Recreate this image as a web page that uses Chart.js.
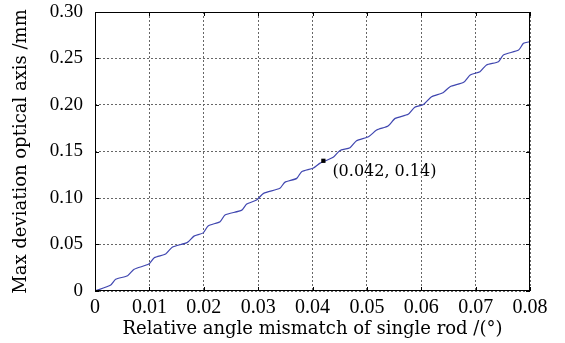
<!DOCTYPE html>
<html>
<head>
<meta charset="utf-8">
<script src="https://cdn.jsdelivr.net/npm/chart.js@4"></script>
<style>
  html, body { margin: 0; padding: 0; background: #fff; }
  #wrap { width: 565px; height: 343px; }
</style>
</head>
<body>
<div id="wrap"><canvas id="myChart" width="565" height="343"></canvas></div>
<script>
// Data
var xValues = [0, 0.0029, 0.0038, 0.0060, 0.0072, 0.0099, 0.0109, 0.0130, 0.0142, 0.0170, 0.0182,
  0.0199, 0.0208, 0.0230, 0.0239, 0.0270, 0.0279, 0.0297, 0.0310, 0.0340, 0.0349, 0.0371, 0.0380,
  0.0401, 0.0414, 0.0438, 0.0450, 0.0469, 0.0481, 0.0503, 0.0518, 0.0539, 0.0552, 0.0576, 0.0588,
  0.0604, 0.0619, 0.0640, 0.0653, 0.0678, 0.0690, 0.0708, 0.0720, 0.0742, 0.0751, 0.0779, 0.0788, 0.0800];
var yValues = [0, 0.0065, 0.0126, 0.0165, 0.0234, 0.0290, 0.0358, 0.0398, 0.0470, 0.0523, 0.0590,
  0.0625, 0.0700, 0.0745, 0.0817, 0.0870, 0.0935, 0.0978, 0.1050, 0.1104, 0.1168, 0.1211, 0.1283,
  0.1320, 0.1375, 0.1437, 0.1509, 0.1541, 0.1616, 0.1659, 0.1731, 0.1774, 0.1856, 0.1900, 0.1975,
  0.2005, 0.2089, 0.2132, 0.2197, 0.2244, 0.2323, 0.2358, 0.2430, 0.2465, 0.2538, 0.2591, 0.2663, 0.2681];

var markX = [0.042];
var markY = [0.14];
var markLabels = ['(0.042, 0.14)'];

var xTickLabels = ['0', '0.01', '0.02', '0.03', '0.04', '0.05', '0.06', '0.07', '0.08'];
var yTickLabels = ['0', '0.05', '0.10', '0.15', '0.20', '0.25', '0.30'];

var xTitle = 'Relative angle mismatch of single rod /(\u00b0)';
var yTitle = 'Max deviation optical axis /mm';

var serif = 'DejaVu Serif';
var tickSerif = 'Liberation Serif';

var lineData = xValues.map(function (x, i) { return { x: x, y: yValues[i] }; });
var markData = markX.map(function (x, i) { return { x: x, y: markY[i] }; });

// frame box, inward tick marks and the point label
var framePlugin = {
  id: 'frame',
  afterDraw: function (chart) {
    var c = chart.ctx;
    var a = chart.chartArea;
    var xs = chart.scales.x;
    var ys = chart.scales.y;
    c.save();
    c.strokeStyle = '#000';
    c.lineWidth = 1;
    c.strokeRect(a.left + 0.5, a.top + 0.5, a.right - a.left - 1, a.bottom - a.top - 1);
    c.beginPath();
    xs.ticks.forEach(function (t) {
      var px = Math.round(xs.getPixelForValue(t.value)) + 0.5;
      c.moveTo(px, a.bottom); c.lineTo(px, a.bottom - 4);
      c.moveTo(px, a.top); c.lineTo(px, a.top + 4);
    });
    ys.ticks.forEach(function (t) {
      var py = Math.round(ys.getPixelForValue(t.value)) + 0.5;
      c.moveTo(a.left, py); c.lineTo(a.left + 4, py);
      c.moveTo(a.right, py); c.lineTo(a.right - 4, py);
    });
    c.stroke();

    c.fillStyle = '#000';
    c.font = '16px "' + serif + '"';
    c.textBaseline = 'middle';
    c.textAlign = 'left';
    markX.forEach(function (x, i) {
      var px = xs.getPixelForValue(x);
      var py = ys.getPixelForValue(markY[i]);
      c.fillText(markLabels[i], px + 9, py + 11);
    });
    c.restore();
  }
};

var ctx = document.getElementById('myChart').getContext('2d');

var myChart = new Chart(ctx, {
  type: 'line',
  data: {
    datasets: [{
      data: lineData,
      order: 1,
      borderColor: '#4047b0',
      borderWidth: 1.2,
      pointRadius: 0,
      tension: 0.2,
      fill: false
    }, {
      type: 'scatter',
      data: markData,
      order: 0,
      pointStyle: 'rect',
      pointRadius: 3,
      backgroundColor: '#000',
      borderColor: '#000',
      borderWidth: 0,
      showLine: false
    }]
  },
  options: {
    responsive: false,
    animation: false,
    layout: { padding: { top: 12, right: 35, left: 0, bottom: 0 } },
    plugins: { legend: { display: false }, tooltip: { enabled: false } },
    scales: {
      x: {
        type: 'linear',
        min: 0,
        max: 0.08,
        afterFit: function (s) { s.height = 52; },
        afterBuildTicks: function (s) {
          s.ticks = xTickLabels.map(function (l) { return { value: parseFloat(l) }; });
        },
        ticks: {
          color: '#000',
          padding: 5,
          maxRotation: 0,
          font: { family: tickSerif, size: 20 },
          callback: function (v, i) { return xTickLabels[i]; }
        },
        grid: { color: '#666', lineWidth: 1, drawTicks: false },
        border: { display: false, dash: [2, 2] },
        title: {
          display: true,
          text: xTitle,
          color: '#000',
          font: { family: serif, size: 18 },
          padding: { top: 0, bottom: 3 }
        }
      },
      y: {
        type: 'linear',
        min: 0,
        max: 0.30,
        afterFit: function (s) {
          s.width = 95;
          s.paddingTop = 0;
          s.paddingBottom = 0;
        },
        afterBuildTicks: function (s) {
          s.ticks = yTickLabels.map(function (l) { return { value: parseFloat(l) }; });
        },
        ticks: {
          color: '#000',
          padding: 12,
          font: { family: tickSerif, size: 19 },
          callback: function (v, i) { return yTickLabels[i]; }
        },
        grid: { color: '#666', lineWidth: 1, drawTicks: false },
        border: { display: false, dash: [2, 2] },
        title: {
          display: true,
          text: yTitle,
          color: '#000',
          font: { family: serif, size: 18 },
          padding: { top: 11, bottom: 0 }
        }
      }
    }
  },
  plugins: [framePlugin]
});
</script>
</body>
</html>
